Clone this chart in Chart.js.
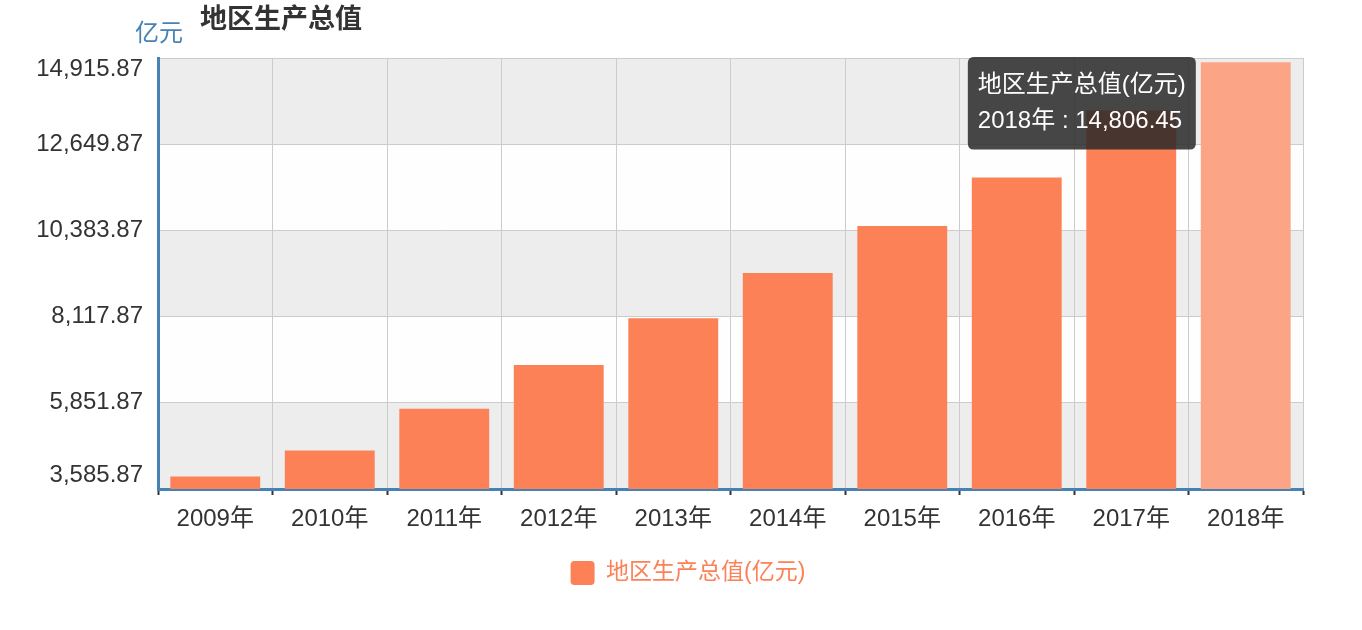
<!DOCTYPE html>
<html>
<head>
<meta charset="utf-8">
<script src="https://cdn.jsdelivr.net/npm/chart.js@4/dist/chart.umd.min.js"></script>
<style>
  html, body { margin: 0; padding: 0; background: #fff; }
  #wrap { width: 1362px; height: 630px; }
</style>
</head>
<body>
<div id="wrap"><canvas id="chart" width="1362" height="630"></canvas></div>
<script>
const years = ["2009年", "2010年", "2011年", "2012年", "2013年", "2014年", "2015年", "2016年", "2017年", "2018年"];
const gdpValues = [3913, 4598, 5694, 6845, 8076, 9262, 10500, 11773, 13538, 14806.45];
const yTicks = [3585.87, 5851.87, 8117.87, 10383.87, 12649.87, 14915.87];
const seriesName = "地区生产总值(亿元)";
const chartTitle = "地区生产总值";
const unitLabel = "亿元";
const highlightIndex = 9;

const FONT = '"Liberation Sans", "Noto Sans CJK SC", sans-serif';
const AXIS_BLUE = "#4682b4";
const BAR = "#fc8157";
const BAR_HOVER = "#fca586";

const fmt = v => v.toLocaleString("en-US", { minimumFractionDigits: 2, maximumFractionDigits: 2 });

// alternating horizontal bands behind the grid
const bandPlugin = {
    id: "bands",
    beforeDraw(chart) {
        const { ctx, chartArea } = chart;
        const y = chart.scales.y;
        ctx.save();
        for (let i = 0; i < y.ticks.length - 1; i++) {
            const top = y.getPixelForValue(y.ticks[i + 1].value);
            const bottom = y.getPixelForValue(y.ticks[i].value);
            ctx.fillStyle = i % 2 === 0 ? "#ededed" : "#fefefe";
            ctx.fillRect(chartArea.left, top, chartArea.right - chartArea.left, bottom - top);
        }
        ctx.restore();
    }
};

// center the legend on the canvas rather than on the padded layout box
const legendShift = {
    id: "legendShift",
    afterLayout(chart) {
        const lg = chart.legend;
        const shift = (chart.width - (lg.left + lg.right)) / 2 + 7;
        lg.left += shift;
        lg.right += shift;
    }
};

// y labels (kept inside the plot height at both ends), title and unit
const headerPlugin = {
    id: "header",
    afterDraw(chart) {
        const { ctx, chartArea } = chart;
        const y = chart.scales.y;
        ctx.save();
        ctx.textBaseline = "middle";
        ctx.textAlign = "right";
        ctx.fillStyle = "#333";
        ctx.font = "24px " + FONT;
        y.ticks.forEach(t => {
            let py = y.getPixelForValue(t.value);
            py = Math.min(Math.max(py, chartArea.top + 11), chartArea.bottom - 14);
            ctx.fillText(fmt(t.value), chartArea.left - 15, py);
        });

        ctx.textAlign = "left";
        ctx.fillStyle = AXIS_BLUE;
        ctx.font = "24px " + FONT;
        ctx.fillText(unitLabel, chartArea.left - 23, chartArea.top - 24);
        ctx.fillStyle = "#333";
        ctx.font = "bold 27px " + FONT;
        ctx.fillText(chartTitle, chartArea.left + 42, chartArea.top - 37);
        ctx.restore();
    }
};

Chart.Tooltip.positioners.leftOfBar = function (items) {
    if (!items.length) return false;
    const el = items[0].element;
    return { x: el.x - el.width / 2 - 11, y: this.chart.chartArea.top - 1 };
};

const chart = new Chart(document.getElementById("chart"), {
    type: "bar",
    data: {
        labels: years,
        datasets: [{
            label: seriesName,
            data: gdpValues,
            backgroundColor: BAR,
            hoverBackgroundColor: BAR_HOVER,
            barPercentage: 0.785,
            categoryPercentage: 1
        }]
    },
    options: {
        responsive: false,
        animation: false,
        events: [],
        layout: { padding: { top: 58, right: 59, bottom: 35, left: 0 } },
        scales: {
            x: {
                grid: { color: "#cccccc", lineWidth: 1, offset: true, tickLength: 6, tickColor: "#333", tickWidth: 2 },
                border: { color: AXIS_BLUE, width: 3 },
                ticks: { color: "#333", font: { family: FONT, size: 24 }, padding: 10 },
                afterFit: s => { s.height = 62; }
            },
            y: {
                min: yTicks[0],
                max: yTicks[yTicks.length - 1],
                afterBuildTicks: s => { s.ticks = yTicks.map(v => ({ value: v })); },
                grid: { color: "#cccccc", lineWidth: 1, drawTicks: false },
                border: { color: AXIS_BLUE, width: 3 },
                ticks: { display: false },
                afterFit: s => { s.width = 158; }
            }
        },
        plugins: {
            legend: {
                position: "bottom",
                labels: {
                    color: BAR,
                    font: { family: FONT, size: 23 },
                    boxWidth: 24,
                    boxHeight: 24,
                    useBorderRadius: true,
                    borderRadius: 4,
                    padding: 10
                }
            },
            tooltip: {
                position: "leftOfBar",
                xAlign: "right",
                yAlign: "top",
                caretSize: 0,
                caretPadding: 0,
                cornerRadius: 6,
                displayColors: false,
                backgroundColor: "rgba(40,40,40,0.85)",
                titleColor: "#fff",
                bodyColor: "#fff",
                titleFont: { family: FONT, size: 24, weight: "normal" },
                bodyFont: { family: FONT, size: 24 },
                padding: { x: 10, y: 14 },
                titleMarginBottom: 7,
                callbacks: {
                    title: items => items[0].dataset.label,
                    label: item => item.label + " : " + fmt(item.raw)
                }
            }
        }
    },
    plugins: [bandPlugin, legendShift, headerPlugin]
});

const active = [{ datasetIndex: 0, index: highlightIndex }];
chart.setActiveElements(active);
chart.tooltip.setActiveElements(active, { x: 0, y: 0 });
chart.update();
</script>
</body>
</html>
